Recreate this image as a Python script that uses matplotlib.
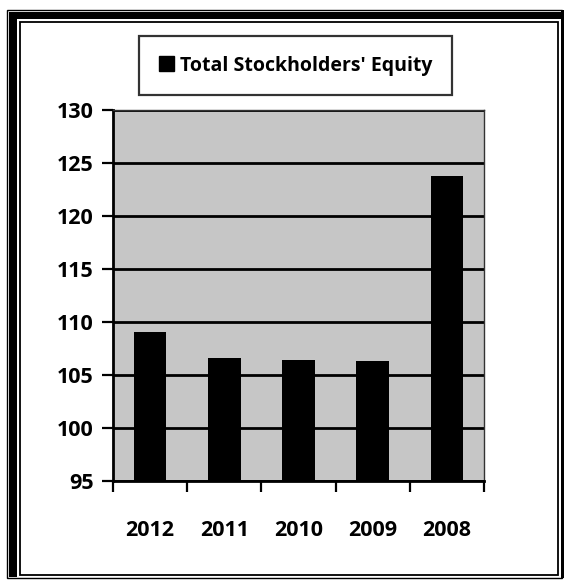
import matplotlib
matplotlib.use("Agg")
import matplotlib.pyplot as plt
from matplotlib.patches import Rectangle, Patch

years = ["2012", "2011", "2010", "2009", "2008"]
equity = [109.1, 106.6, 106.4, 106.35, 123.8]
series_name = "Total Stockholders' Equity"
y_ticks = [95, 100, 105, 110, 115, 120, 125, 130]

plt.rcParams['font.family'] = ['Open Sans', 'DejaVu Sans']

W, H = 564, 581
fig = plt.figure(figsize=(W / 100, H / 100), dpi=100)
fig.patch.set_facecolor("white")

ax = fig.add_axes([113 / W, 1 - 481 / H, (484 - 113) / W, (481 - 110) / H])
ax.set_facecolor("#c6c6c6")

x = list(range(len(years)))
ax.bar(x, equity, width=0.44, color="black", zorder=3)

ax.set_xlim(-0.5, len(years) - 0.5)
ax.set_ylim(95, 130)
ax.set_yticks(y_ticks)
ax.set_yticklabels([str(v) for v in y_ticks], fontsize=15.5, fontweight="bold")
ax.yaxis.grid(True, color="black", linewidth=2.0, zorder=1)
ax.set_axisbelow(True)

ax.set_xticks(x)
ax.set_xticklabels(years, fontsize=15.5, fontweight="bold")
ax.set_xticks([i - 0.5 for i in range(len(years) + 1)], minor=True)
ax.tick_params(axis="x", which="major", length=0, pad=28)
ax.tick_params(axis="x", which="minor", length=8, width=1.6, direction="out")
ax.tick_params(axis="y", length=8, width=1.6, direction="out", pad=6)

for side in ("left", "bottom"):
    ax.spines[side].set_linewidth(2.0)
    ax.spines[side].set_color("black")
for side in ("top", "right"):
    ax.spines[side].set_linewidth(1.0)
    ax.spines[side].set_color("#333333")

leg = fig.legend(handles=[Patch(facecolor="black", edgecolor="black", label=series_name)],
                 loc="center", bbox_to_anchor=(295.5 / W, 1 - 65.5 / H),
                 frameon=True, fancybox=False, shadow=False,
                 prop={"size": 14, "weight": "bold"},
                 handlelength=0.8, handleheight=0.8, handletextpad=0.3,
                 borderpad=1.0, borderaxespad=0)
leg.get_frame().set_edgecolor("black")
leg.get_frame().set_linewidth(1.6)


def px_rect(x0, y0, x1, y1, lw=1.0, fill=False):
    fig.patches.append(Rectangle((x0 / W, 1 - y1 / H), (x1 - x0) / W, (y1 - y0) / H,
                                 transform=fig.transFigure, fill=fill,
                                 facecolor="black", edgecolor="black",
                                 linewidth=lw, zorder=10))


# Outer frame: thin box, heavy band along the left and top edges
px_rect(7, 10, 562, 578, lw=1.0)
px_rect(9, 12, 17, 577, lw=0, fill=True)
px_rect(9, 12, 561, 19, lw=0, fill=True)
px_rect(561, 10, 564, 578, lw=0, fill=True)
# Inner frame
px_rect(20, 22, 557.5, 575, lw=1.3)

fig.savefig("out.png", dpi=100, facecolor="white")
